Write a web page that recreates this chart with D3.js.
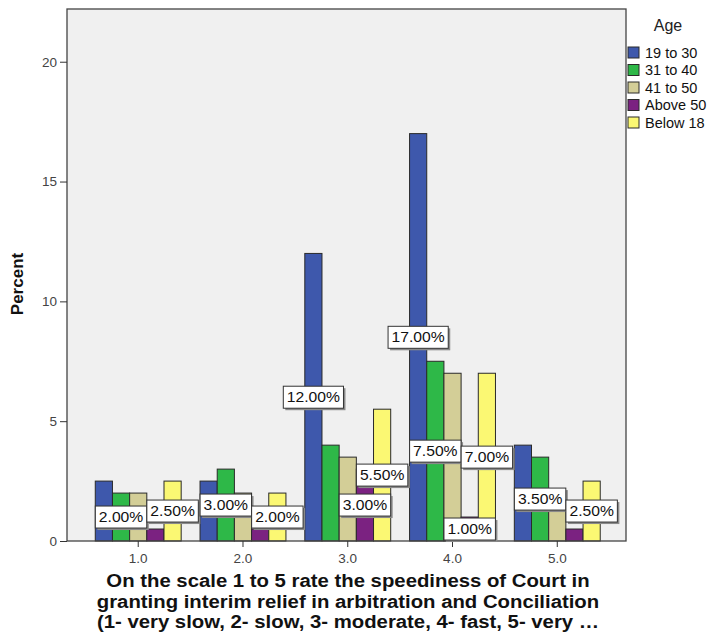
<!DOCTYPE html>
<html><head><meta charset="utf-8">
<script src="https://cdn.jsdelivr.net/npm/d3@7"></script>
<style>
html,body{margin:0;padding:0;background:#fff;}
svg{display:block;font-family:"Liberation Sans",Arial,sans-serif;}
</style></head>
<body>
<svg id="c" width="710" height="642"></svg>
<script>
const categories = ["1.0", "2.0", "3.0", "4.0", "5.0"];
const seriesNames = ["19 to 30", "31 to 40", "41 to 50", "Above 50", "Below 18"];
const s19to30   = [2.5, 2.5, 12.0, 17.0, 4.0];
const s31to40   = [2.0, 3.0, 4.0, 7.5, 3.5];
const s41to50   = [2.0, 2.0, 3.5, 7.0, 2.0];
const sAbove50  = [0.5, 0.5, 3.0, 1.0, 0.5];
const sBelow18  = [2.5, 2.0, 5.5, 7.0, 2.5];
const seriesValues = [s19to30, s31to40, s41to50, sAbove50, sBelow18];
const colors = ["#3E58AC", "#2EB848", "#D3CE97", "#7B2281", "#FBF873"];
const yTicks = [0, 5, 10, 15, 20];
// bars that carry a data label: [category, series]
const labeledBars = [
  ["1.0", "31 to 40"], ["1.0", "Below 18"],
  ["2.0", "31 to 40"], ["2.0", "Below 18"],
  ["3.0", "19 to 30"], ["3.0", "Below 18"], ["3.0", "Above 50"],
  ["4.0", "19 to 30"], ["4.0", "31 to 40"], ["4.0", "Below 18"], ["4.0", "Above 50"],
  ["5.0", "31 to 40"], ["5.0", "Below 18"]
];
const yTitle = "Percent";
const xTitleLines = [
  "On the scale 1 to 5 rate the speediness of Court in",
  "granting interim relief in arbitration and Conciliation",
  "(1- very slow, 2- slow, 3- moderate, 4- fast, 5- very \u2026"
];
const legendTitle = "Age";

const svg = d3.select("#c");
const P = {left: 67, right: 626, top: 9, bottom: 541};

const x = d3.scaleBand().domain(categories).range([69.5, 626]).paddingInner(0).paddingOuter(0.156);
const groupW = x.bandwidth() * 0.82;
const x1 = d3.scaleBand().domain(seriesNames).range([-groupW / 2, groupW / 2]).padding(0);
const y = d3.scaleLinear().domain([0, 22.2]).range([P.bottom, P.top]);
const color = d3.scaleOrdinal().domain(seriesNames).range(colors);

// plot background
svg.append("rect").attr("x", P.left).attr("y", P.top)
  .attr("width", P.right - P.left).attr("height", P.bottom - P.top)
  .attr("fill", "#F0F0F0");

// bars
const data = [];
categories.forEach((c, ci) => seriesNames.forEach((s, si) => data.push({c, s, v: seriesValues[si][ci]})));
svg.append("g").selectAll("rect").data(data).join("rect")
  .attr("x", d => x(d.c) + x.bandwidth() / 2 + x1(d.s))
  .attr("y", d => y(d.v))
  .attr("width", x1.bandwidth())
  .attr("height", d => y(0) - y(d.v))
  .attr("fill", d => color(d.s))
  .attr("stroke", "#2a2a2a").attr("stroke-width", 1);

// frame
svg.append("rect").attr("x", P.left).attr("y", P.top)
  .attr("width", P.right - P.left).attr("height", P.bottom - P.top)
  .attr("fill", "none").attr("stroke", "#444").attr("stroke-width", 1.3);

// y axis
const yAxis = svg.append("g").attr("transform", `translate(${P.left},0)`)
  .call(d3.axisLeft(y).tickValues(yTicks).tickSize(7).tickPadding(3).tickFormat(d3.format("d")));
yAxis.select(".domain").remove();
yAxis.selectAll("line").attr("stroke", "#333");
yAxis.selectAll("text").attr("font-size", 13.5).attr("fill", "#444")
  .attr("font-family", "'Liberation Sans',Arial,sans-serif");

// x axis
const xAxis = svg.append("g").attr("transform", `translate(0,${P.bottom})`)
  .call(d3.axisBottom(x).tickSize(6).tickPadding(6));
xAxis.select(".domain").remove();
xAxis.selectAll("line").attr("stroke", "#333");
xAxis.selectAll("text").attr("font-size", 13.5).attr("fill", "#444")
  .attr("font-family", "'Liberation Sans',Arial,sans-serif");

// data labels
const SX = 1.12;
const lg = svg.append("g");
labeledBars.forEach(([c, s]) => {
  const ci = categories.indexOf(c), si = seriesNames.indexOf(s);
  const v = seriesValues[si][ci];
  const cx = x(c) + x.bandwidth() / 2 + x1(s) + x1.bandwidth() / 2;
  const cy = y(v / 2);
  const g = lg.append("g");
  const t = g.append("text").attr("transform", `translate(${cx},${cy + 5}) scale(${SX},1)`)
    .attr("text-anchor", "middle").attr("font-size", 14).attr("fill", "#111")
    .text(v.toFixed(2) + "%");
  const bw = t.node().getBBox().width * SX;
  const w = bw + 7, h = 22;
  g.insert("rect", "text").attr("x", cx - w / 2 + 2).attr("y", cy - h / 2 + 2)
    .attr("width", w).attr("height", h).attr("fill", "#8a8a8a");
  g.insert("rect", "text").attr("x", cx - w / 2).attr("y", cy - h / 2)
    .attr("width", w).attr("height", h).attr("fill", "#fff")
    .attr("stroke", "#333").attr("stroke-width", 1);
});

// y title
svg.append("text").attr("transform", "translate(23,284) rotate(-90)")
  .attr("text-anchor", "middle").attr("font-size", 17).attr("font-weight", "bold")
  .attr("fill", "#111").text(yTitle);

// x title
svg.append("g").selectAll("text").data(xTitleLines).join("text")
  .attr("transform", (d, i) => `translate(348,${587 + i * 20.5}) scale(1.13,1)`)
  .attr("text-anchor", "middle").attr("font-size", 18).attr("font-weight", "bold")
  .attr("fill", "#111").text(d => d);

// legend
svg.append("text").attr("x", 668).attr("y", 31).attr("text-anchor", "middle")
  .attr("font-size", 16).attr("fill", "#222").text(legendTitle);
const leg = svg.append("g").selectAll("g").data(seriesNames).join("g")
  .attr("transform", (d, i) => `translate(628,${47 + i * 17.5})`);
leg.append("rect").attr("width", 11).attr("height", 11)
  .attr("fill", d => color(d)).attr("stroke", "#2a2a2a").attr("stroke-width", 1);
leg.append("text").attr("x", 17).attr("y", 10.5).attr("font-size", 14.5)
  .attr("fill", "#111").text(d => d);
</script>
</body></html>
